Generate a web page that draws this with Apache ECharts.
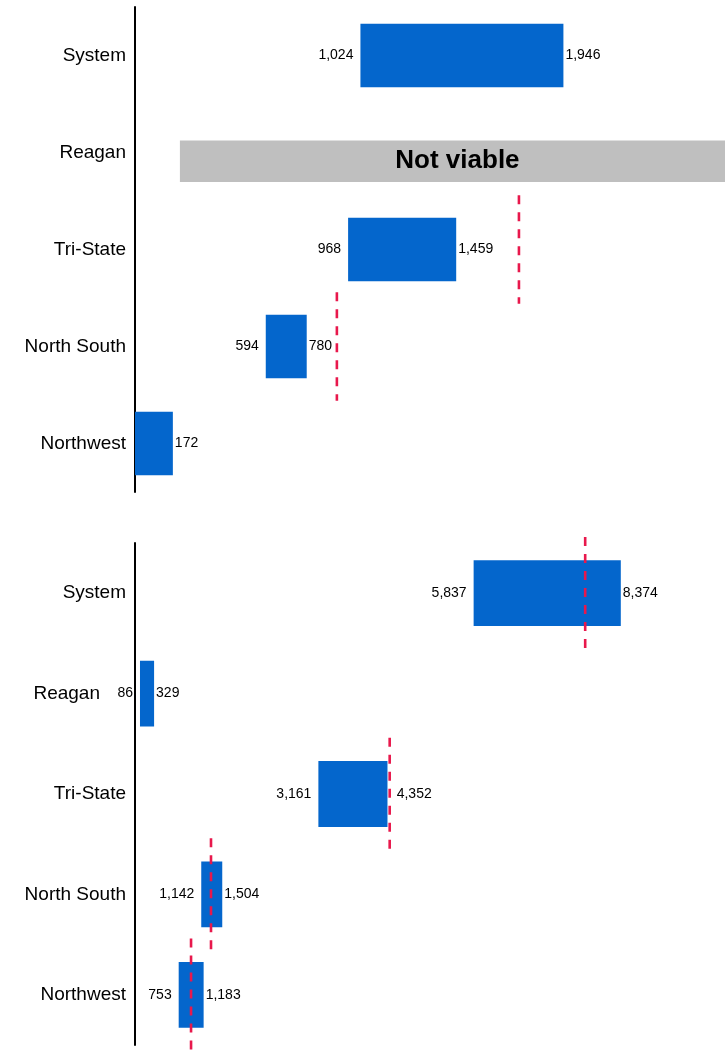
<!DOCTYPE html>
<html>
<head>
<meta charset="utf-8">
<script src="https://cdn.jsdelivr.net/npm/echarts@6/dist/echarts.min.js"></script>
<style>
  html, body { margin: 0; padding: 0; background: #fff; }
  #chart { width: 725px; height: 1055px; }
</style>
</head>
<body>
<div id="chart"></div>
<script>
var categories = ['System', 'Reagan', 'Tri-State', 'North South', 'Northwest']

// upper panel
var topLow = [1024, null, 968, 594, 0]
var topHigh = [1946, null, 1459, 780, 172]
var topRef = [null, null, 1744, 917, null]
var topNotViable = [1, 204, 2680] // row, from, to
var topMax = 2680

// lower panel
var botLow = [5837, 86, 3161, 1142, 753]
var botHigh = [8374, 329, 4352, 1504, 1183]
var botRef = [7760, null, 4390, 1310, 966]
var botMax = 10170

var BLUE = '#0466cc'
var RED = '#e8184c'
var FONT = 'Liberation Sans, Arial, sans-serif'

function fmt(v) {
  return v.toLocaleString('en-US')
}

function rangeData(low, high, ref) {
  var out = []
  for (var i = 0; i < low.length; i++) {
    if (low[i] == null) continue
    out.push([i, low[i], high[i], ref[i] == null ? '-' : ref[i]])
  }
  return out
}

function refData(ref) {
  var out = []
  for (var i = 0; i < ref.length; i++) {
    if (ref[i] != null) out.push([i, ref[i]])
  }
  return out
}

function renderRange(params, api) {
  var cat = api.value(0)
  var lo = api.value(1)
  var hi = api.value(2)
  var ref = api.value(3)
  var a = api.coord([lo, cat])
  var b = api.coord([hi, cat])
  var h = api.size([0, 1])[1] * 0.655
  var kids = [{
    type: 'rect',
    shape: { x: a[0], y: a[1] - h / 2, width: b[0] - a[0], height: h },
    style: { fill: BLUE }
  }]
  if (lo > 0) {
    kids.push({
      type: 'text',
      style: { text: fmt(lo), x: a[0] - 7, y: a[1], align: 'right', verticalAlign: 'middle',
        font: '14px ' + FONT, fill: '#000' }
    })
  }
  var rx = b[0] + 2
  if (!isNaN(ref)) {
    var r = api.coord([ref, cat])[0]
    // push the label past a ref line that sits right at the bar end
    if (r > b[0] && r - b[0] < 8) rx = r + 7
  }
  kids.push({
    type: 'text',
    style: { text: fmt(hi), x: rx, y: b[1], align: 'left', verticalAlign: 'middle',
      font: '14px ' + FONT, fill: '#000' }
  })
  return { type: 'group', children: kids }
}

function renderRef(params, api) {
  var p = api.coord([api.value(1), api.value(0)])
  var half = api.size([0, 1])[1] * 0.56
  return {
    type: 'line',
    shape: { x1: p[0], y1: p[1] - half, x2: p[0], y2: p[1] + half },
    style: { stroke: RED, lineWidth: 2.6, lineDash: [9, 8] }
  }
}

function renderNotViable(params, api) {
  var cat = api.value(0)
  var a = api.coord([api.value(1), cat])
  var b = api.coord([api.value(2), cat])
  var band = api.size([0, 1])[1]
  var h = band * 0.43
  var cy = a[1] + band * 0.09
  return {
    type: 'group',
    children: [{
      type: 'rect',
      shape: { x: a[0], y: cy - h / 2, width: b[0] - a[0], height: h },
      style: { fill: '#bfbfbf' }
    }, {
      type: 'text',
      style: { text: 'Not viable', x: (a[0] + b[0]) / 2 + 5, y: cy, align: 'center', verticalAlign: 'middle',
        font: 'bold 26px ' + FONT, fill: '#000' }
    }]
  }
}

function catAxis(gridIndex, formatter) {
  return {
    type: 'category',
    gridIndex: gridIndex,
    data: categories,
    inverse: true,
    axisLine: { show: true, onZero: false, lineStyle: { color: '#000', width: 2 } },
    axisTick: { show: false },
    splitLine: { show: false },
    axisLabel: {
      margin: 9,
      color: '#000',
      fontSize: 19,
      fontFamily: FONT,
      formatter: formatter,
      rich: { shifted: { fontSize: 19, fontFamily: FONT, color: '#000', padding: [0, 26, 0, 0] } }
    }
  }
}

function valAxis(gridIndex, max) {
  return {
    type: 'value',
    gridIndex: gridIndex,
    min: 0,
    max: max,
    show: false,
    splitLine: { show: false }
  }
}

var chart = echarts.init(document.getElementById('chart'))

chart.setOption({
  animation: false,
  backgroundColor: '#fff',
  grid: [
    { left: 135, right: 0, top: 7, height: 485 },
    { left: 135, right: 0, top: 543, height: 502 }
  ],
  xAxis: [valAxis(0, topMax), valAxis(1, botMax)],
  yAxis: [
    catAxis(0),
    catAxis(1, function (v, i) {
      // the low label of a bar hugging the axis takes the room of the category label
      if (botLow[i] / botMax * 590 < 30) return '{shifted|' + v + '}'
      return v
    })
  ],
  series: [
    {
      type: 'custom', xAxisIndex: 0, yAxisIndex: 0, z: 2,
      renderItem: renderNotViable,
      encode: { x: [1, 2], y: 0 },
      data: [topNotViable]
    },
    {
      type: 'custom', xAxisIndex: 0, yAxisIndex: 0, z: 3,
      renderItem: renderRange,
      encode: { x: [1, 2], y: 0 },
      data: rangeData(topLow, topHigh, topRef)
    },
    {
      type: 'custom', xAxisIndex: 0, yAxisIndex: 0, z: 4,
      renderItem: renderRef,
      encode: { x: 1, y: 0 },
      data: refData(topRef)
    },
    {
      type: 'custom', xAxisIndex: 1, yAxisIndex: 1, z: 3,
      renderItem: renderRange,
      encode: { x: [1, 2], y: 0 },
      data: rangeData(botLow, botHigh, botRef)
    },
    {
      type: 'custom', xAxisIndex: 1, yAxisIndex: 1, z: 4,
      renderItem: renderRef,
      encode: { x: 1, y: 0 },
      data: refData(botRef)
    }
  ]
})
</script>
</body>
</html>
